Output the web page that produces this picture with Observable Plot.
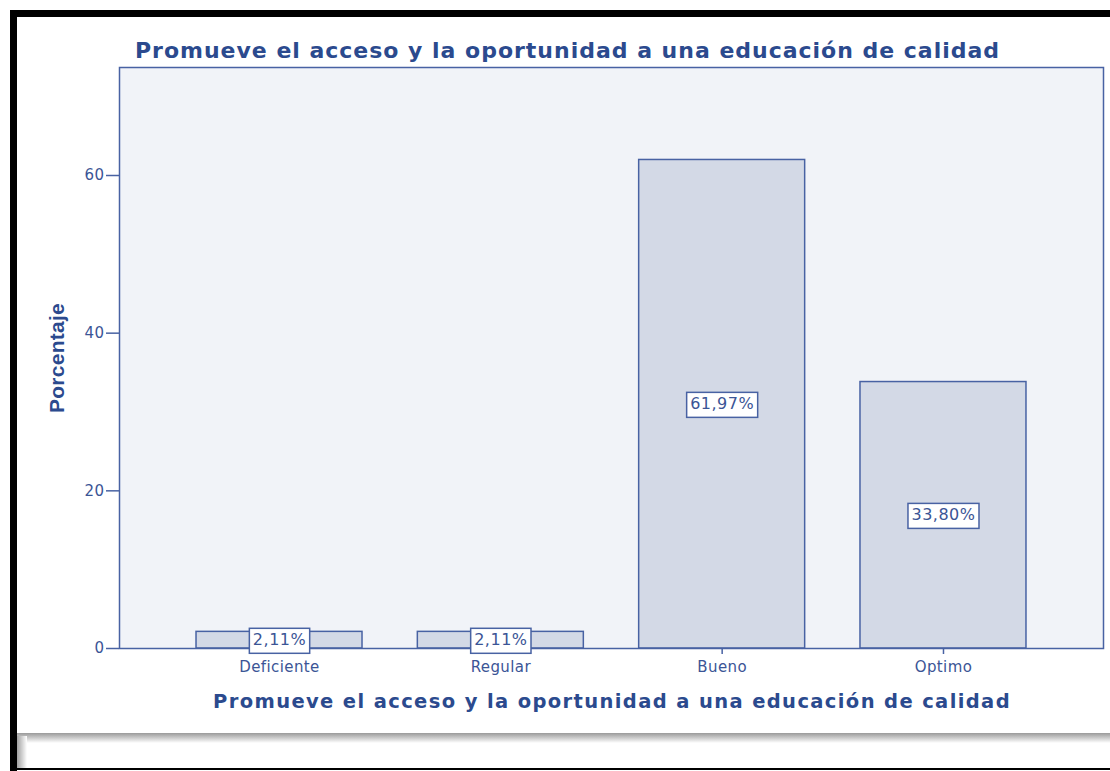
<!DOCTYPE html>
<html><head><meta charset="utf-8">
<script src="https://cdn.jsdelivr.net/npm/d3@7"></script>
<script src="https://cdn.jsdelivr.net/npm/@observablehq/plot@0.6"></script>
<style>
body{margin:0;background:#fff;}
#wrap{position:relative;width:1110px;height:771px;overflow:hidden;font-family:"DejaVu Sans",Verdana,sans-serif;background:#fff;}
#chart{position:absolute;left:0;top:0;}
.ttl{position:absolute;white-space:nowrap;font-weight:bold;color:#2b4a8e;line-height:1;}
#title{left:135px;top:40px;font-size:22px;}
#xtitle{left:213px;top:692px;font-size:19.5px;}
#ytitle{left:56px;top:358px;font-size:21px;font-family:"Liberation Sans Narrow","Liberation Sans",Arial,sans-serif;transform:translate(-50%,-50%) rotate(-90deg);transform-origin:center;}
.bk{position:absolute;background:#000;}
</style></head><body>
<div id="wrap">
  <div id="chart"></div>
  <div class="ttl" id="title">Promueve el acceso y la oportunidad a una educación de calidad</div>
  <div class="ttl" id="xtitle">Promueve el acceso y la oportunidad a una educación de calidad</div>
  <div class="ttl" id="ytitle">Porcentaje</div>
  <div style="position:absolute;left:17px;top:733px;width:1093px;height:10px;background:linear-gradient(#9a9a9a,#ffffff);"></div>
  <div style="position:absolute;left:17px;top:736px;width:10px;height:33px;background:linear-gradient(90deg,#a0a0a0,#ffffff);"></div>
  <div class="bk" style="left:10px;top:10px;width:7px;height:761px;"></div>
  <div class="bk" style="left:10px;top:10px;width:1100px;height:7px;"></div>
  <div class="bk" style="left:10px;top:768px;width:1100px;height:2px;"></div>
</div>
<script>
const categories = ["Deficiente", "Regular", "Bueno", "Optimo"];
const percentages = [2.11, 2.11, 61.97, 33.80];
const valueLabels = ["2,11%", "2,11%", "61,97%", "33,80%"];
const yTicks = [0, 20, 40, 60];
const yMax = 73.7;

const data = categories.map((c, i) => ({c, v: percentages[i], l: valueLabels[i]}));

const ink = "#3b5596";
const edge = "#4862a3";

const chart = Plot.plot({
  width: 1110, height: 771,
  marginLeft: 119, marginRight: 7, marginTop: 67, marginBottom: 123,
  style: {background: "transparent", fontFamily: "'DejaVu Sans', Verdana, sans-serif", color: ink},
  x: {domain: categories, paddingInner: 0.25, paddingOuter: 0.348, round: false},
  y: {domain: [0, yMax]},
  marks: [
    Plot.frame({fill: "#f1f3f8", stroke: "none"}),
    Plot.barY(data, {x: "c", y: "v", fill: "#d3d9e6", stroke: edge, strokeWidth: 1.5}),
    Plot.frame({stroke: edge, strokeWidth: 1.5}),
    Plot.axisY({ticks: yTicks, tickSize: 13, tickPadding: 2, fontSize: 15, stroke: edge, fill: ink, label: null, strokeWidth: 1.5}),
    Plot.axisX({tickSize: 6, tickPadding: 7, fontSize: 15, stroke: edge, fill: ink, label: null, strokeWidth: 1.5}),
    Plot.text(data, {x: "c", y: d => d.v / 2, text: "l", fontSize: 16, fill: ink})
  ]
});
document.getElementById("chart").appendChild(chart);

// slight widening of axis tick labels, like the reference
d3.select(chart).selectAll('g[aria-label="y-axis tick label"] text, g[aria-label="x-axis tick label"] text')
  .style("letter-spacing", "0.4px");

// white boxes behind value labels
d3.select(chart).selectAll('g[aria-label="text"] text').each(function() {
  this.style.letterSpacing = "0.5px";
  const b = this.getBBox();
  const padX = 3.5, padY = 3;
  const r = document.createElementNS("http://www.w3.org/2000/svg", "rect");
  r.setAttribute("x", b.x - padX);
  r.setAttribute("y", b.y - padY + 1);
  r.setAttribute("width", b.width + 2 * padX);
  r.setAttribute("height", b.height + 2 * padY);
  r.setAttribute("fill", "#fff");
  r.setAttribute("stroke", edge);
  r.setAttribute("stroke-width", 1.5);
  const t = this.getAttribute("transform");
  if (t) r.setAttribute("transform", t);
  this.parentNode.insertBefore(r, this);
});

// stretch titles to match reference widths
function fit(id, target) {
  const el = document.getElementById(id);
  const n = el.textContent.length;
  const w = el.getBoundingClientRect().width;
  el.style.letterSpacing = ((target - w) / n) + "px";
}
fit("title", 865);
fit("xtitle", 798);
(function() {
  const el = document.getElementById("ytitle");
  const n = el.textContent.length;
  const h = el.getBoundingClientRect().height;
  el.style.letterSpacing = ((110 - h) / n) + "px";
})();
</script>
</body></html>
